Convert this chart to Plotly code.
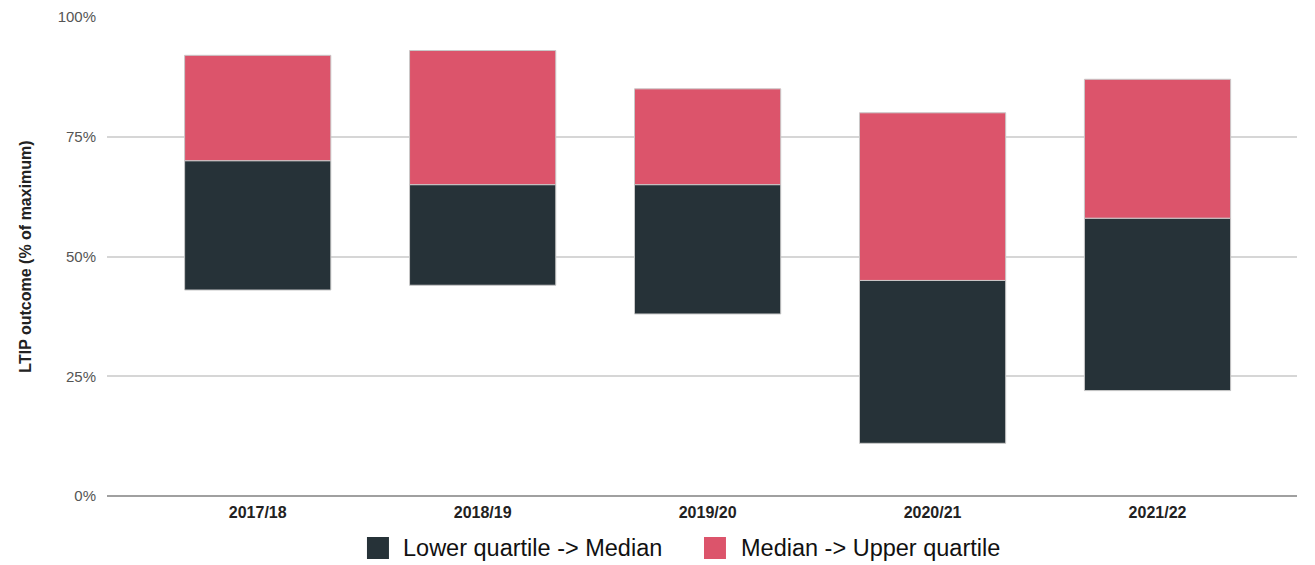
import plotly.graph_objects as go

years = ["2017/18", "2018/19", "2019/20", "2020/21", "2021/22"]
lower_quartile = [43, 44, 38, 11, 22]
median = [70, 65, 65, 45, 58]
upper_quartile = [92, 93, 85, 80, 87]

series_names = ["Lower quartile -> Median", "Median -> Upper quartile"]
series_colours = ["#263238", "#dc546b"]

font_family = "Liberation Sans, Arial, sans-serif"
outline = dict(color="#c8c8c8", width=1)

fig = go.Figure()

# Floating bars: lower quartile -> median, then median -> upper quartile
fig.add_trace(go.Bar(
    x=years,
    y=[m - lq for m, lq in zip(median, lower_quartile)],
    base=lower_quartile,
    marker=dict(color=series_colours[0], line=outline),
    width=0.65,
    name=series_names[0],
))
fig.add_trace(go.Bar(
    x=years,
    y=[uq - m for uq, m in zip(upper_quartile, median)],
    base=median,
    marker=dict(color=series_colours[1], line=outline),
    width=0.65,
    name=series_names[1],
))

# Legend drawn below the axis: square swatch + label per series
swatch_x = [0.2277, 0.5109]
label_x = [0.2479, 0.5319]
legend_y = -0.1086
for name, colour, sx, lx in zip(series_names, series_colours, swatch_x, label_x):
    fig.add_shape(
        type="rect", xref="paper", yref="paper",
        xsizemode="pixel", ysizemode="pixel",
        xanchor=sx, yanchor=legend_y,
        x0=-11, x1=11, y0=-11, y1=11,
        fillcolor=colour, line=dict(width=0),
    )
    fig.add_annotation(
        text=name, xref="paper", yref="paper",
        x=lx, y=legend_y, xanchor="left", yanchor="middle",
        showarrow=False, font=dict(size=23.5, color="#111111"),
        borderpad=0,
    )

fig.update_layout(
    width=1315, height=565,
    margin=dict(l=107, r=18, t=17, b=69, autoexpand=False),
    plot_bgcolor="white", paper_bgcolor="white",
    barmode="overlay",
    font=dict(family=font_family, color="#222222"),
    showlegend=False,
)

fig.update_xaxes(
    type="category",
    range=[-0.67, 4.62],
    tickfont=dict(size=16, color="#222222"),
    tickprefix="<b>", ticksuffix="</b>",
    ticklabelstandoff=5,
    showgrid=False, showline=False, zeroline=False,
)

fig.update_yaxes(
    range=[0, 100],
    tickvals=[0, 25, 50, 75, 100],
    ticktext=["0%", "25%", "50%", "75%", "100%"],
    tickfont=dict(size=15, color="#555555"),
    showgrid=True, gridcolor="#d6d6d6", gridwidth=2,
    zeroline=True, zerolinecolor="#a0a0a0", zerolinewidth=2,
    showline=False,
    ticks="", ticklabelstandoff=10,
    title=dict(text="<b>LTIP outcome (% of maximum)</b>", font=dict(size=16, color="#222222"), standoff=22),
)

fig.write_html("out.html")
